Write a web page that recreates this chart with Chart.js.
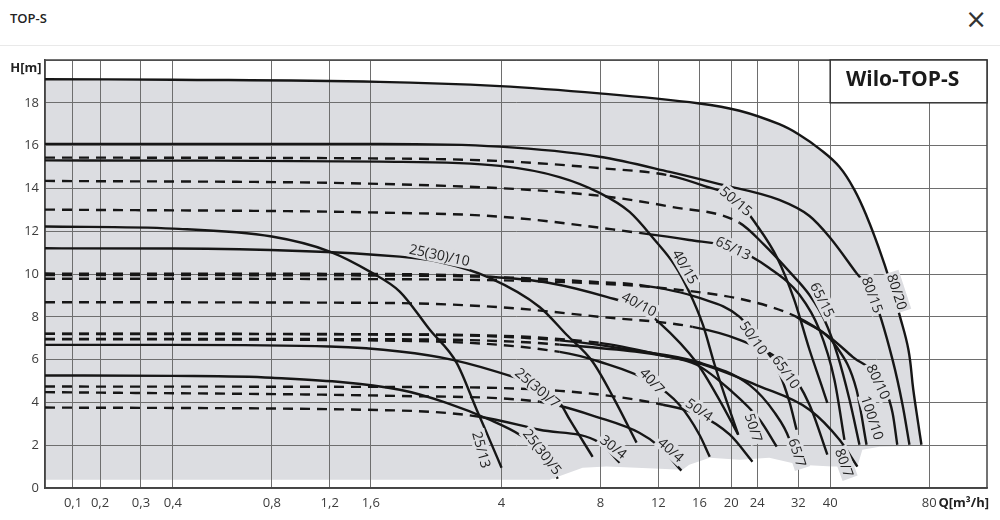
<!DOCTYPE html>
<html>
<head>
<meta charset="utf-8">
<title>TOP-S</title>
<script src="https://cdn.jsdelivr.net/npm/chart.js@4.4.1/dist/chart.umd.min.js"></script>
<style>
  html, body { margin: 0; padding: 0; background: #fff; }
  #wrap { position: relative; width: 1000px; height: 520px; overflow: hidden; }
  #head { position: absolute; left: 0; top: 0; width: 1000px; height: 45px; border-bottom: 1px solid #e9e9e9; }
  #head .title { position: absolute; left: 10px; top: 9px; font: 600 13px 'Open Sans', sans-serif; color: #222; }
  #head .close { position: absolute; right: 13px; top: 4px; font: 26px 'DejaVu Sans', sans-serif; color: #333; }
  #box { position: absolute; left: 0; top: 0; width: 1000px; height: 520px; }
</style>
</head>
<body>
<div id="wrap">
  <div id="head"><span class="title">TOP-S</span><span class="close">×</span></div>
  <div id="box"><canvas id="pumpChart"></canvas></div>
</div>
<script>
// Q axis ticks [m³/h]
const Q_TICKS = [0.1, 0.2, 0.3, 0.4, 0.8, 1.2, 1.6, 4, 8, 12, 16, 20, 24, 32, 40, 80];

// pump curves, [Q m³/h, H m]
const C80_20 = [[0,19.1],[0.4,19.08],[1.7,18.98],[3.95,18.78],[7.95,18.44],[16,17.97],[21.2,17.63],[28.0,17.0],[32.3,16.5],[37.1,15.85],[42.7,15.0],[47.4,13.93],[51.9,12.62],[56.5,11.13],[60.6,9.73],[65.0,8.09],[69.2,6.46],[71.6,4.59],[74.2,2.96],[75.8,2.02]];
const C80_15 = [[0,16.08],[1.7,16.08],[3.95,15.95],[7.95,15.48],[13.0,14.77],[18.4,14.2],[28,13.46],[34.6,12.71],[39.8,11.73],[48.1,10.04],[53.8,9.03],[61.9,6.0],[66.4,3.89],[69.7,2.02]];
const C50_15 = [[0,15.44],[1.7,15.4],[3.95,15.28],[7.95,14.95],[13.0,14.6],[16.6,14.11],[20.5,13.55],[23.9,12.29],[27.6,10.75],[31.1,8.79],[34.6,6.46],[37.6,4.82],[39.2,3.98]];
const C65_15 = [[0,14.35],[1.7,14.21],[7.57,13.69],[13.0,13.15],[21.2,12.39],[25.2,11.36],[30.1,10.1],[34.6,9.02],[38.4,7.86],[42.1,6.22],[45.8,4.12],[49.1,2.02]];
const C65_13 = [[0,13.01],[1.7,12.87],[3.95,12.68],[10.5,11.92],[14.9,11.59],[20.2,11.22],[26.1,10.28],[32.3,9.02],[37.1,7.39],[41.2,5.06],[44.2,2.25]];
const C40_15 = [[0,15.31],[0.4,15.3],[1.7,15.25],[3.95,15.05],[6.0,14.53],[7.95,13.79],[9.81,12.9],[11.7,11.59],[13.45,10.42],[14.9,9.16],[16.4,7.62],[17.8,5.76],[19.3,4.12],[21.0,2.49]];
const C25_13 = [[0,12.22],[0.4,12.12],[0.8,11.75],[1.2,11.05],[1.62,10.04],[1.96,9.18],[2.42,7.39],[2.92,5.85],[3.36,3.66],[3.68,2.25],[4.0,0.95]];
const C25_10 = [[0,11.2],[0.4,11.19],[1.96,10.81],[2.59,10.56],[3.68,9.82],[5.22,8.46],[6.31,7.16],[7.57,5.9],[8.83,4.12],[10.3,2.12]];
const C40_10 = [[0,10.02],[1.7,10.0],[3.68,9.87],[5.6,9.58],[8.35,8.93],[10.5,8.42],[12.1,7.72],[15.7,5.85],[18.4,4.12],[21.0,2.49]];
const C50_10 = [[0,9.95],[1.7,9.93],[3.95,9.85],[7.95,9.62],[10.5,9.49],[16.0,8.88],[21.2,8.0],[24.4,6.8],[27.5,5.66],[30.1,4.0],[31.6,2.72]];
const C80_10 = [[0,9.78],[1.7,9.76],[7.95,9.55],[13.9,9.26],[22.7,8.74],[31.6,8.0],[39.8,7.06],[46.8,6.13],[56.5,5.06],[61.9,3.52],[64.0,2.02]];
const C100_10 = [[31.6,8.0],[41.8,6.6],[48.1,4.59],[51.6,2.02]];
const C65_10 = [[0,8.68],[1.7,8.65],[3.95,8.45],[7.95,8.0],[15.25,7.53],[21.2,6.92],[29.4,5.66],[34.6,3.89],[39.2,1.56]];
const C40_7 = [[0,6.95],[1.96,6.88],[6.01,6.36],[7.95,5.9],[11.5,4.92],[13.9,3.89],[16.0,2.49],[17.2,1.46]];
const C50_7 = [[0,7.21],[1.96,7.18],[7.95,6.78],[12.1,6.22],[15.7,5.76],[19.8,4.59],[24.4,3.19],[27.5,1.93]];
const C65_7 = [[0,7.2],[1.96,7.17],[6.01,6.9],[10.5,6.4],[15.7,5.9],[22.7,4.82],[27.1,3.52],[30.1,2.25],[31.6,1.0]];
const C80_7 = [[0,6.97],[1.96,6.95],[6.01,6.7],[15.7,5.85],[24.4,4.75],[34.6,3.66],[42.7,2.25],[48.4,1.0]];
const C25_7 = [[0,6.69],[0.4,6.69],[1.2,6.61],[1.96,6.38],[2.84,5.99],[4.32,5.2],[5.22,4.73],[6.01,4.0],[6.45,3.19],[7.57,1.46]];
const C25_5 = [[0,5.26],[0.4,5.24],[0.8,5.15],[1.96,4.59],[2.72,3.98],[3.68,3.19],[4.54,2.49],[5.41,1.56],[5.93,0.43]];
const C30_4 = [[0,3.76],[1.96,3.62],[3.43,3.33],[5.22,2.72],[7.95,2.12],[9.15,1.18]];
const C40_4 = [[0,4.48],[1.96,4.3],[5.22,4.03],[7.95,3.28],[10.5,2.58],[12.1,1.93],[14.1,0.81]];
const C50_4 = [[0,4.74],[1.96,4.72],[6.01,4.54],[12.4,3.89],[16.0,3.42],[19.8,2.49],[23.2,1.23]];

// lower edge of the grey field
const AREA_BOTTOM = [[0,0.39],[5.6,0.39],[7.06,0.95],[8.35,1.0],[10.3,0.95],[14.2,0.85],[14.9,1.09],[17.2,1.41],[21.2,1.32],[26.1,1.41],[32.3,1.09],[40.6,1.0],[48.4,1.0],[50.1,1.79],[56.5,1.93],[78.5,1.98]];

// curve names written on the sheet
const CURVE_LABELS = ['80/20','80/15','65/15','50/15','65/13','40/15','25(30)/10','40/10','50/10','65/10','80/10','100/10','40/7','25(30)/7','50/4','50/7','65/7','80/7','25/13','25(30)/5','30/4','40/4'];
const LABEL_Q = [64.0, 53.8, 37.9, 20.7, 20.3, 14.5, 2.59, 10.5, 23.4, 29.4, 56.1, 53.8, 11.5, 5.15, 16.0, 23.4, 31.8, 44.2, 3.48, 5.33, 8.77, 13.1];
const LABEL_H = [9.17, 9.03, 8.79, 13.41, 11.22, 10.34, 10.89, 8.6, 7.02, 5.43, 4.97, 3.28, 5.01, 4.69, 3.66, 2.82, 1.65, 1.18, 1.79, 1.7, 1.93, 1.79];
const LABEL_ANGLE = [72, 70, 63, 40, 25, 60, 12, 28, 55, 55, 65, 72, 47, 40, 35, 72, 72, 70, 75, 52, 38, 42];

const AREA_COLOR = '#dcdde1';
const LINE_COLOR = '#161616';
const GRID_COLOR = '#6e6e6e';

// curves to draw; dash = last point index of the dashed (flat) part
const curves = [
    { pts: C80_20, dash: 0, area: true, smooth: true },
    { pts: C80_15, dash: 0 },
    { pts: C50_15, dash: 4 },
    { pts: C65_15, dash: 4 },
    { pts: C65_13, dash: 3 },
    { pts: C40_15, dash: 0 },
    { pts: C25_13, dash: 0 },
    { pts: C25_10, dash: 0 },
    { pts: C40_10, dash: 2 },
    { pts: C50_10, dash: 4 },
    { pts: C80_10, dash: 5 },
    { pts: C100_10, dash: 0 },
    { pts: C65_10, dash: 4 },
    { pts: C40_7, dash: 2 },
    { pts: C50_7, dash: 2 },
    { pts: C65_7, dash: 2 },
    { pts: C80_7, dash: 2 },
    { pts: C25_7, dash: 0 },
    { pts: C25_5, dash: 0 },
    { pts: C30_4, dash: 2 },
    { pts: C40_4, dash: 2 },
    { pts: C50_4, dash: 3 }
];

// The sheet's Q axis: logarithmic from 0.4 up, stretched by hand below that
const WARP_Q = [0, 0.1, 0.2, 0.3, 0.4];
const WARP_U = [-1.293, -1.010, -0.737, -0.323, 0];

function qToU(q) {
    if (q >= 0.4) return Math.log2(q / 0.4);
    for (let i = 1; i < WARP_Q.length; i++) {
        if (q <= WARP_Q[i]) {
            const t = (q - WARP_Q[i - 1]) / (WARP_Q[i] - WARP_Q[i - 1]);
            return WARP_U[i - 1] + t * (WARP_U[i] - WARP_U[i - 1]);
        }
    }
    return WARP_U[0];
}

function uToQ(u) {
    if (u >= 0) return 0.4 * Math.pow(2, u);
    for (let i = 1; i < WARP_U.length; i++) {
        if (u <= WARP_U[i]) {
            const t = (u - WARP_U[i - 1]) / (WARP_U[i] - WARP_U[i - 1]);
            return WARP_Q[i - 1] + t * (WARP_Q[i] - WARP_Q[i - 1]);
        }
    }
    return 0;
}

class PumpQScale extends Chart.Scale {
    determineDataLimits() {
        this.min = this.options.min;
        this.max = this.options.max;
    }
    buildTicks() {
        return Q_TICKS.filter(v => v >= this.min && v <= this.max).map(v => ({ value: v }));
    }
    configure() {
        super.configure();
        this._u0 = qToU(this.min);
        this._u1 = qToU(this.max);
    }
    getLabelForValue(v) {
        return String(v).replace('.', ',');
    }
    getPixelForValue(v) {
        return this.getPixelForDecimal((qToU(v) - this._u0) / (this._u1 - this._u0));
    }
    getValueForPixel(p) {
        return uToQ(this._u0 + this.getDecimalForPixel(p) * (this._u1 - this._u0));
    }
    getPixelForTick(i) {
        return this.getPixelForValue(this.ticks[i].value);
    }
}
PumpQScale.id = 'pumpQ';
PumpQScale.defaults = {};
Chart.register(PumpQScale);

Chart.defaults.font.family = "'Open Sans', sans-serif";
Chart.defaults.color = '#3c3c3c';

const toXY = pts => pts.map(p => ({ x: p[0], y: p[1] }));

const datasets = curves.map(c => ({
    data: toXY(c.pts),
    borderColor: LINE_COLOR,
    borderWidth: 2.4,
    pointRadius: 0,
    cubicInterpolationMode: c.smooth ? 'default' : 'monotone',
    tension: c.smooth ? 0.4 : 0,
    fill: c.area ? { target: curves.length } : false,
    backgroundColor: AREA_COLOR,
    segment: {
        borderDash: ctx => (ctx.p1DataIndex <= c.dash ? [10, 7] : [])
    }
}));

// invisible lower boundary for the grey field
datasets.push({
    data: toXY(AREA_BOTTOM),
    borderColor: 'rgba(0,0,0,0)',
    borderWidth: 0,
    pointRadius: 0,
    tension: 0,
    fill: false
});

const sheetPlugin = {
    id: 'sheet',
    beforeDatasetsDraw(chart) {
        const { ctx, chartArea: a } = chart;
        ctx.save();
        ctx.strokeStyle = '#444';
        ctx.lineWidth = 1.5;
        ctx.strokeRect(a.left, a.top, a.right - a.left, a.bottom - a.top);
        ctx.restore();
    },
    afterDatasetsDraw(chart) {
        const { ctx, chartArea: a } = chart;
        const x = chart.scales.x;
        const y = chart.scales.y;
        ctx.save();
        ctx.textAlign = 'center';
        ctx.textBaseline = 'middle';

        // curve names
        ctx.font = "14px 'Open Sans', sans-serif";
        CURVE_LABELS.forEach((txt, i) => {
            ctx.save();
            ctx.translate(x.getPixelForValue(LABEL_Q[i]), y.getPixelForValue(LABEL_H[i]));
            ctx.rotate(LABEL_ANGLE[i] * Math.PI / 180);
            const w = ctx.measureText(txt).width;
            ctx.fillStyle = AREA_COLOR;
            ctx.fillRect(-w / 2 - 2, -8, w + 4, 16);
            ctx.fillStyle = '#1e1e1e';
            ctx.fillText(txt, 0, 1);
            ctx.restore();
        });

        // name box in the top right cell
        const bx = x.getPixelForValue(40);
        const by = y.getPixelForValue(18);
        ctx.fillStyle = '#fff';
        ctx.fillRect(bx, a.top, a.right - bx, by - a.top);
        ctx.strokeStyle = '#333';
        ctx.lineWidth = 1.5;
        ctx.strokeRect(bx, a.top, a.right - bx, by - a.top);
        ctx.fillStyle = '#1a1a1a';
        ctx.font = "bold 21px 'Open Sans', sans-serif";
        ctx.fillText('Wilo-TOP-S', (bx + a.right) / 2 - 6, (a.top + by) / 2 - 1);

        // axis names
        ctx.font = "bold 13px 'Open Sans', sans-serif";
        ctx.fillStyle = '#222';
        ctx.fillText('H[m]', a.left - 19, a.top + 8);
        ctx.textAlign = 'right';
        ctx.fillText('Q[m³/h]', a.right + 2, a.bottom + 15);
        ctx.restore();
    }
};

const pumpChart = new Chart(document.getElementById('pumpChart').getContext('2d'), {
    type: 'line',
    data: { datasets: datasets },
    options: {
        responsive: true,
        maintainAspectRatio: false,
        animation: false,
        events: [],
        layout: { padding: { top: 60, right: 13, left: 0, bottom: 0 } },
        plugins: {
            legend: { display: false },
            tooltip: { enabled: false },
            filler: { drawTime: 'beforeDraw' }
        },
        scales: {
            x: {
                type: 'pumpQ',
                min: 0,
                max: 120,
                afterFit: s => { s.height = 32; },
                grid: { color: GRID_COLOR, lineWidth: 1, drawTicks: false },
                border: { color: '#444', width: 1.5 },
                ticks: {
                    autoSkip: false,
                    maxRotation: 0,
                    padding: 7,
                    font: { size: 13 },
                    callback: v => String(v).replace('.', ',')
                }
            },
            y: {
                type: 'linear',
                min: 0,
                max: 20,
                afterFit: s => { s.width = 45; },
                grid: { color: GRID_COLOR, lineWidth: 1, drawTicks: false },
                border: { color: '#444', width: 1.5 },
                ticks: {
                    stepSize: 2,
                    padding: 6,
                    font: { size: 13 },
                    callback: v => (v === 20 ? '' : v)
                }
            }
        }
    },
    plugins: [sheetPlugin]
});
</script>
</body>
</html>
